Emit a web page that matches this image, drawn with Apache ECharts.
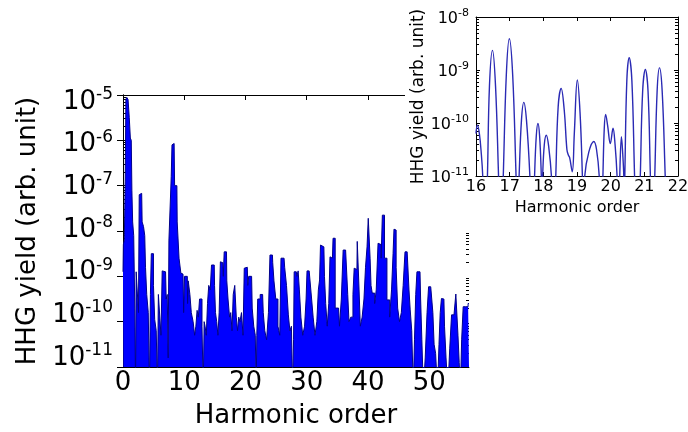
<!DOCTYPE html>
<html>
<head>
<meta charset="utf-8">
<script src="https://cdn.jsdelivr.net/npm/echarts@6/dist/echarts.min.js"></script>
<style>
  html, body { margin: 0; padding: 0; background: #fff; }
  #main { width: 688px; height: 432px; }
</style>
</head>
<body>
<div id="main"></div>
<script>
// main spectrum, [harmonic order, log10(yield)], upper envelope
var spectrum = [
  [0.0, -8.9], [0.12, -8.3], [0.3, -8.2], [0.42, -6.9], [0.52, -5.1], [0.7, -5.05], [0.95, -5.1],
  [1.1, -5.5], [1.3, -5.95], [1.4, -6.0], [1.5, -7.1], [1.65, -7.8], [1.85, -8.1], [2.0, -9.7],
  [2.1, -11.5], [2.2, -8.9], [2.45, -8.9], [2.6, -9.8], [2.7, -7.2], [3.05, -7.17], [3.2, -7.8],
  [3.5, -7.9], [3.6, -8.1], [3.75, -8.8], [4.0, -9.4], [4.25, -9.8], [4.4, -11.5], [4.55, -9.4],
  [4.7, -8.5], [4.9, -8.5], [5.05, -9.2], [5.3, -9.95], [5.55, -10.2], [5.7, -11.5], [5.85, -9.4],
  [6.1, -9.4], [6.3, -10.3], [6.5, -8.88], [6.95, -8.9], [7.15, -9.5], [7.3, -9.4], [7.45, -10.8],
  [7.55, -8.2], [7.8, -8.2], [7.95, -6.8], [8.05, -6.1], [8.35, -6.07], [8.5, -7.0], [8.8, -7.0],
  [8.9, -7.8], [9.1, -7.8], [9.2, -8.6], [9.4, -8.6], [9.5, -8.93], [9.8, -8.95], [10.0, -9.8],
  [10.1, -9.0], [10.5, -9.0], [10.6, -9.6], [10.7, -9.1], [10.85, -9.1], [11.0, -9.4], [11.3, -9.8],
  [11.6, -10.0], [11.8, -10.3], [12.0, -10.1], [12.2, -9.75], [12.4, -9.9], [12.6, -9.5], [12.8, -9.5],
  [13.0, -10.1], [13.2, -11.5], [13.3, -10.0], [13.5, -10.1], [13.7, -10.3], [13.9, -9.6], [14.1, -9.2],
  [14.4, -9.3], [14.5, -8.75], [14.9, -8.75], [15.0, -9.2], [15.2, -9.8], [15.4, -10.0], [15.6, -10.3],
  [15.8, -9.8], [16.0, -8.68], [16.3, -8.7], [16.45, -9.0], [16.6, -8.46], [16.9, -8.46], [17.0, -9.1],
  [17.3, -9.5], [17.5, -9.9], [17.7, -9.8], [17.9, -10.2], [18.1, -9.4], [18.4, -9.2], [18.6, -9.9],
  [18.8, -10.2], [19.0, -9.9], [19.2, -10.0], [19.5, -9.8], [19.7, -10.3], [19.9, -8.82], [20.3, -8.8],
  [20.45, -9.2], [20.6, -9.0], [21.0, -9.0], [21.2, -9.7], [21.5, -10.1], [21.7, -10.3], [21.8, -11.5],
  [21.9, -10.3], [22.1, -9.5], [22.3, -9.5], [22.5, -9.4], [22.8, -9.4], [23.0, -9.8], [23.3, -10.2],
  [23.6, -10.4], [23.9, -9.8], [24.1, -8.53], [24.4, -8.53], [24.5, -8.7], [24.8, -9.1], [25.1, -9.5],
  [25.5, -10.1], [25.7, -10.3], [25.9, -8.6], [26.3, -8.6], [26.5, -8.8], [26.9, -9.2], [27.1, -9.85],
  [27.4, -10.2], [27.6, -10.1], [27.8, -11.5], [27.9, -10.4], [28.0, -8.9], [28.3, -8.9], [28.5, -9.0],
  [28.7, -8.88], [28.9, -9.3], [29.2, -9.9], [29.5, -10.3], [29.8, -10.1], [30.0, -9.5], [30.1, -8.88],
  [30.7, -8.85], [30.9, -9.5], [31.2, -9.9], [31.5, -10.3], [31.8, -10.0], [32.0, -9.3], [32.2, -9.08],
  [32.3, -8.31], [32.8, -8.35], [33.0, -9.0], [33.2, -9.6], [33.5, -10.1], [33.7, -9.6], [33.9, -8.57],
  [34.2, -8.6], [34.4, -8.16], [34.6, -8.16], [34.7, -9.7], [35.2, -9.7], [35.5, -10.1], [35.8, -9.5],
  [36.1, -8.42], [36.6, -8.45], [36.8, -9.4], [37.0, -10.0], [37.4, -9.9], [37.7, -9.4], [37.8, -8.82],
  [38.2, -8.85], [38.3, -8.23], [38.5, -8.23], [38.6, -9.3], [38.9, -10.1], [39.2, -9.9], [39.5, -9.5],
  [39.7, -8.8], [40.0, -8.35], [40.1, -7.72], [40.3, -7.72], [40.4, -8.6], [40.6, -9.2], [40.8, -9.37],
  [41.0, -9.37], [41.2, -9.6], [41.5, -9.3], [41.8, -8.27], [42.0, -8.3], [42.3, -8.6], [42.4, -7.65],
  [42.6, -7.65], [42.8, -8.6], [43.0, -8.6], [43.2, -9.52], [43.4, -9.52], [43.7, -9.9], [44.0, -9.3],
  [44.2, -8.5], [44.3, -7.96], [44.5, -7.98], [44.7, -8.8], [45.0, -9.7], [45.3, -10.0], [45.6, -9.8],
  [45.9, -9.2], [46.2, -8.46], [46.6, -8.5], [46.8, -9.3], [47.0, -9.74], [47.3, -10.2], [47.5, -11.5],
  [47.7, -10.4], [47.9, -9.4], [48.1, -8.9], [48.5, -8.9], [48.7, -9.5], [48.9, -10.4], [49.2, -11.5],
  [49.5, -10.8], [49.8, -9.8], [50.0, -9.23], [50.5, -9.25], [50.7, -9.8], [50.9, -10.5], [51.2, -10.7],
  [51.5, -11.5], [51.7, -10.5], [51.9, -9.8], [52.1, -9.49], [52.4, -9.5], [52.6, -10.1], [52.9, -10.8],
  [53.2, -11.5], [53.5, -10.6], [53.8, -9.85], [54.3, -9.85], [54.4, -9.39], [54.6, -9.4], [54.8, -10.3],
  [55.0, -10.9], [55.2, -11.5], [55.4, -10.4], [55.7, -9.67], [56.2, -9.67], [56.5, -9.6]
];

// inset: orders 16-22, [harmonic order, log10(yield)]
var insetCurve = [
  [16.0, -10.2], [16.04, -10.04], [16.1, -10.2], [16.16, -10.6], [16.2, -11.0], [16.24, -11.8],
  [16.3, -11.8], [16.34, -11.0], [16.4, -9.3], [16.49, -8.63], [16.58, -9.3], [16.67, -11.0], [16.71, -11.8],
  [16.77, -11.8], [16.81, -11.0], [16.9, -9.1], [16.99, -8.41], [17.09, -9.1], [17.19, -11.0], [17.23, -11.8],
  [17.25, -11.8], [17.28, -11.0], [17.35, -9.95], [17.42, -9.61], [17.5, -9.95], [17.6, -11.0], [17.63, -11.8],
  [17.71, -11.8], [17.74, -11.0], [17.79, -10.25], [17.84, -10.01], [17.89, -10.25], [17.94, -11.0], [17.96, -11.6],
  [17.98, -11.0], [18.03, -10.4], [18.09, -10.23], [18.16, -10.45], [18.24, -11.0], [18.28, -11.8],
  [18.33, -11.8], [18.37, -11.0], [18.44, -9.7], [18.53, -9.35], [18.62, -9.75], [18.7, -10.5], [18.74, -10.6],
  [18.78, -10.65], [18.86, -10.92], [18.92, -10.2], [19.01, -9.19], [19.09, -9.8], [19.16, -11.0], [19.19, -11.8],
  [19.21, -11.8], [19.23, -11.0], [19.35, -10.55], [19.5, -10.35], [19.58, -10.5], [19.66, -11.0], [19.7, -11.8],
  [19.74, -11.8], [19.77, -11.0], [19.81, -10.1], [19.85, -9.84], [19.91, -10.05], [19.99, -10.39], [20.07, -10.1],
  [20.13, -10.4], [20.19, -11.0], [20.22, -11.8], [20.25, -11.8], [20.27, -11.0], [20.32, -10.26], [20.36, -10.6],
  [20.39, -11.0], [20.4, -11.6], [20.42, -11.0], [20.48, -9.2], [20.55, -8.77], [20.63, -9.2], [20.71, -11.0],
  [20.75, -11.8], [20.84, -11.8], [20.88, -11.0], [20.95, -9.4], [21.03, -8.99], [21.11, -9.4], [21.18, -11.0],
  [21.22, -11.8], [21.27, -11.8], [21.31, -11.0], [21.38, -9.4], [21.45, -8.96], [21.53, -9.4], [21.62, -11.0],
  [21.66, -11.8], [22.0, -11.8]
];

var mainX = [0, 56.5];
var mainY = [-11, -5];
var mainLabelY = [-11.211, -4.836]; // the printed decade labels sit a bit closer together than the ticks
var decades = [-11, -10, -9, -8, -7, -6, -5];
var insetX = [16, 22];
var insetY = [-11, -8];
var yName = 'HHG yield (arb. unit)';
var xName = 'Harmonic order';

var chart = echarts.init(document.getElementById('main'));
var font = 'DejaVu Sans';

function minorTicks(lo, hi) {
  var out = [];
  for (var n = lo; n < hi; n++) {
    for (var k = 2; k < 10; k++) out.push(n + Math.log10(k));
  }
  return out;
}

function powRich(big, small) {
  return {
    formatter: function (v) { return '{b|10}{s|' + v + '}'; },
    rich: {
      b: { fontSize: big, fontFamily: font, color: '#000', lineHeight: big + 6 },
      s: { fontSize: small, fontFamily: font, color: '#000', verticalAlign: 'top', lineHeight: small }
    }
  };
}

var line = { show: true, lineStyle: { color: '#000', width: 1 } };

function xAx(grid, pos, range, interval, opts) {
  return Object.assign({
    type: 'value', gridIndex: grid, position: pos, min: range[0], max: range[1], interval: interval,
    axisLine: line, splitLine: { show: false },
    axisTick: { inside: true, length: 5, lineStyle: { color: '#000' } },
    axisLabel: { show: false }
  }, opts || {});
}

function yAx(grid, pos, range, opts) {
  return Object.assign({
    type: 'value', gridIndex: grid, position: pos, min: range[0], max: range[1], interval: 1,
    axisLine: line, splitLine: { show: false },
    axisTick: { inside: true, length: 6, lineStyle: { color: '#000' } },
    axisLabel: { show: false }
  }, opts || {});
}

function minorAx(grid, pos, range, z) {
  return {
    type: 'value', gridIndex: grid, position: pos, min: range[0], max: range[1], z: z,
    axisLine: { show: false }, splitLine: { show: false }, axisLabel: { show: false },
    axisTick: { inside: true, length: 3, customValues: minorTicks(range[0], range[1]),
      lineStyle: { color: '#000' } }
  };
}

var mainYLabel = powRich(26, 17);
mainYLabel.margin = 10;
mainYLabel.customValues = decades;
var insetYLabel = powRich(16, 11);
insetYLabel.margin = 7;
insetYLabel.padding = [3, 0, 0, 0];

var option = {
  animation: false,
  backgroundColor: '#fff',
  grid: [
    { left: 123, top: 95, width: 346, height: 272, outerBoundsMode: 'none', containLabel: false },
    { left: 476, top: 17, width: 202, height: 159, z: 60, outerBoundsMode: 'none', containLabel: false }
  ],
  graphic: [{
    type: 'rect', z: 50, silent: true,
    shape: { x: 405, y: 0, width: 283, height: 222 },
    style: { fill: '#fff' }
  }],
  xAxis: [
    xAx(0, 'bottom', mainX, 10, {
      axisLabel: { show: true, fontSize: 26, fontFamily: font, color: '#000', margin: 3, showMaxLabel: false },
      name: xName, nameLocation: 'middle', nameGap: 36,
      nameTextStyle: { fontSize: 26, fontFamily: font, color: '#000' }
    }),
    xAx(0, 'top', mainX, 10),
    xAx(1, 'bottom', insetX, 1, {
      z: 60,
      axisTick: { inside: true, length: 4, lineStyle: { color: '#000' } },
      axisLabel: { show: true, fontSize: 16, fontFamily: font, color: '#000', margin: 3 },
      name: xName, nameLocation: 'middle', nameGap: 24,
      nameTextStyle: { fontSize: 16, fontFamily: font, color: '#000' }
    }),
    xAx(1, 'top', insetX, 1, { z: 60, axisTick: { inside: true, length: 4, lineStyle: { color: '#000' } } })
  ],
  yAxis: [
    yAx(0, 'left', mainY, {
      name: yName, nameLocation: 'middle', nameGap: 82, nameRotate: 90,
      nameTextStyle: { fontSize: 26, fontFamily: font, color: '#000' }
    }),
    yAx(0, 'right', mainY),
    minorAx(0, 'left', mainY, 0),
    minorAx(0, 'right', mainY, 0),
    yAx(1, 'left', insetY, {
      z: 60,
      axisTick: { inside: true, length: 4, lineStyle: { color: '#000' } },
      axisLabel: insetYLabel,
      name: yName, nameLocation: 'middle', nameGap: 46, nameRotate: 90,
      nameTextStyle: { fontSize: 17, fontFamily: font, color: '#000' }
    }),
    yAx(1, 'right', insetY, { z: 60, axisTick: { inside: true, length: 4, lineStyle: { color: '#000' } } }),
    minorAx(1, 'left', insetY, 60),
    minorAx(1, 'right', insetY, 60),
    {
      type: 'value', gridIndex: 0, position: 'left', min: mainLabelY[0], max: mainLabelY[1],
      axisLine: { show: false }, axisTick: { show: false }, splitLine: { show: false },
      axisLabel: mainYLabel
    }
  ],
  series: [
    {
      type: 'line', xAxisIndex: 0, yAxisIndex: 0, data: spectrum,
      showSymbol: false, z: 2, clip: true, step: 'middle',
      lineStyle: { color: '#00008b', width: 1 },
      areaStyle: { color: '#0000ff', opacity: 1, origin: 'start' }
    },
    {
      type: 'line', xAxisIndex: 2, yAxisIndex: 4, data: insetCurve,
      showSymbol: false, z: 61, clip: true, smooth: 0.4,
      lineStyle: { color: '#2a2ab4', width: 1.4 }
    }
  ]
};

chart.setOption(option);
window.onresize = chart.resize;
</script>
</body>
</html>
